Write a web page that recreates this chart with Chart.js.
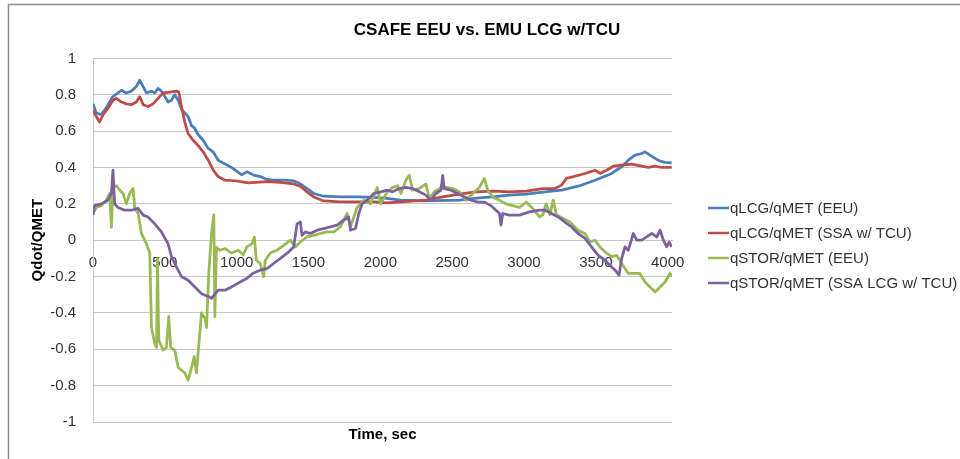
<!DOCTYPE html>
<html>
<head>
<meta charset="utf-8">
<script src="https://cdn.jsdelivr.net/npm/chart.js@4.4.1/dist/chart.umd.min.js"></script>
<style>
  html, body { margin: 0; padding: 0; background: #fff; }
  canvas { display: block; }
</style>
</head>
<body>
<canvas id="chart" width="960" height="459"></canvas>
<script>
const chartTitle = 'CSAFE EEU vs. EMU LCG w/TCU';
const xTitle = 'Time, sec';
const yTitle = 'Qdot/QMET';
const seriesLabels = ['qLCG/qMET (EEU)', 'qLCG/qMET (SSA w/ TCU)', 'qSTOR/qMET (EEU)', 'qSTOR/qMET (SSA LCG w/ TCU)'];
const seriesColors = ['#4A7EBB', '#BE4B48', '#98B954', '#7D60A0'];
const xTicks = [0, 500, 1000, 1500, 2000, 2500, 3000, 3500, 4000];
const yTicks = [-1, -0.8, -0.6, -0.4, -0.2, 0, 0.2, 0.4, 0.6, 0.8, 1];
const xMax = 4030;

// qLCG/qMET (EEU)
const tLcgEeu = [0,23,58,93,139,174,198,232,267,302,325,349,372,407,430,453,476,500,523,546,
  569,593,616,639,662,686,709,732,767,802,837,871,918,964,1000,1034,1071,1118,1164,1211,
  1257,1327,1397,1443,1490,1536,1606,1722,1838,1955,2048,2140,2317,2550,2689,2782,2898,3015,3145,3261,
  3377,3494,3610,3680,3726,3772,3819,3842,3877,3912,3947,3982,4028];
const lcgEeu = [0.75,0.70,0.69,0.73,0.79,0.81,0.825,0.81,0.82,0.845,0.88,0.845,0.81,0.82,0.81,0.835,0.82,0.79,0.76,0.77,
  0.80,0.77,0.72,0.70,0.68,0.63,0.615,0.58,0.55,0.505,0.486,0.44,0.42,0.40,0.38,0.36,0.376,0.358,0.35,0.334,
  0.33,0.33,0.327,0.31,0.284,0.257,0.242,0.238,0.238,0.235,0.23,0.22,0.216,0.22,0.233,0.238,0.248,0.253,0.266,0.275,
  0.297,0.33,0.367,0.404,0.44,0.468,0.477,0.486,0.468,0.45,0.435,0.428,0.426];

// qLCG/qMET (SSA w/ TCU)
const tLcgSsa = [0,23,46,70,104,139,163,198,232,267,302,325,349,383,418,453,488,534,581,597,
  616,639,662,697,732,767,802,837,871,918,988,1081,1211,1304,1397,1443,1490,1536,1606,1722,
  1838,1955,2048,2140,2317,2434,2550,2666,2782,2898,3015,3131,3215,3261,3296,3354,3424,3494,3528,3575,
  3621,3680,3749,3819,3865,3912,3958,4028];
const lcgSsa = [0.715,0.68,0.65,0.69,0.725,0.77,0.78,0.76,0.75,0.745,0.76,0.79,0.745,0.735,0.75,0.78,0.81,0.815,0.82,0.815,
  0.735,0.65,0.587,0.55,0.52,0.486,0.44,0.385,0.35,0.33,0.327,0.315,0.322,0.318,0.31,0.297,0.266,0.238,0.216,0.211,
  0.211,0.211,0.205,0.211,0.22,0.238,0.253,0.266,0.27,0.266,0.27,0.284,0.284,0.303,0.34,0.352,0.367,0.385,0.367,0.385,
  0.407,0.413,0.418,0.407,0.40,0.407,0.40,0.40];

// qSTOR/qMET (EEU)
const tStorEeu = [0,23,58,93,116,128,139,163,186,209,232,255,279,290,314,337,372,395,407,430,
  442,449,458,488,511,527,541,569,593,616,639,662,686,704,720,737,755,779,790,806,
  825,841,848,860,883,918,964,1011,1046,1071,1106,1123,1137,1164,1188,1199,1234,1281,1327,1374,
  1408,1443,1490,1536,1583,1629,1676,1722,1769,1792,1838,1885,1931,1978,2001,2048,2085,2120,2143,2178,
  2201,2224,2271,2317,2341,2375,2410,2457,2503,2550,2596,2643,2689,2724,2747,2782,2829,2875,2922,2968,
  3015,3061,3108,3131,3154,3180,3203,3226,3273,3319,3354,3377,3424,3459,3494,3528,3563,3610,3645,3680,
  3726,3772,3807,3842,3877,3912,3947,3982,4016,4028];
const storEeu = [0.147,0.18,0.19,0.22,0.257,0.07,0.29,0.30,0.275,0.257,0.20,0.257,0.285,0.18,0.147,0.037,-0.02,-0.07,-0.48,-0.57,
  -0.59,-0.10,-0.55,-0.605,-0.59,-0.42,-0.59,-0.605,-0.70,-0.715,-0.73,-0.77,-0.70,-0.64,-0.73,-0.57,-0.40,-0.43,-0.48,-0.18,
  0.037,0.14,-0.42,-0.04,-0.055,-0.046,-0.07,-0.055,-0.08,-0.037,-0.02,0.018,-0.11,-0.128,-0.20,-0.11,-0.07,-0.055,-0.028,0.0,
  -0.037,-0.01,0.018,0.027,0.037,0.046,0.046,0.073,0.147,0.073,0.18,0.22,0.20,0.29,0.20,0.266,0.29,0.30,0.257,0.33,
  0.357,0.275,0.284,0.31,0.23,0.266,0.284,0.29,0.284,0.266,0.22,0.257,0.29,0.34,0.275,0.238,0.22,0.20,0.19,0.18,
  0.21,0.174,0.128,0.14,0.20,0.14,0.22,0.138,0.12,0.10,0.073,0.055,0.037,-0.01,0.0,-0.037,-0.064,-0.09,-0.083,-0.128,
  -0.183,-0.183,-0.183,-0.23,-0.257,-0.285,-0.257,-0.23,-0.183,-0.20];

// qSTOR/qMET (SSA LCG w/ TCU)
const tStorSsa = [0,12,58,104,128,139,151,174,221,267,314,349,383,430,476,523,546,581,616,662,
  709,755,802,825,871,918,964,1025,1071,1118,1164,1211,1257,1304,1350,1397,1420,1443,1455,1478,
  1513,1560,1606,1652,1699,1745,1780,1792,1827,1850,1873,1908,1955,2001,2048,2085,2131,2178,2224,2271,
  2317,2352,2387,2422,2434,2445,2492,2538,2585,2631,2678,2724,2770,2805,2829,2840,2852,2898,2968,3038,
  3108,3145,3191,3238,3284,3331,3377,3424,3470,3517,3563,3610,3645,3661,3680,3703,3726,3761,3784,3819,
  3854,3889,3924,3947,3970,3993,4010,4028];
const storSsa = [0.138,0.19,0.20,0.22,0.257,0.385,0.20,0.18,0.165,0.165,0.175,0.138,0.128,0.09,0.046,-0.02,-0.09,-0.147,-0.20,-0.22,
  -0.257,-0.294,-0.31,-0.32,-0.275,-0.275,-0.257,-0.23,-0.21,-0.18,-0.165,-0.156,-0.128,-0.10,-0.073,-0.037,0.09,0.10,0.027,0.046,
  0.037,0.055,0.064,0.073,0.083,0.11,0.128,0.055,0.064,0.147,0.20,0.22,0.257,0.266,0.275,0.266,0.284,0.29,0.284,0.266,
  0.248,0.22,0.257,0.275,0.357,0.284,0.275,0.257,0.238,0.22,0.21,0.21,0.19,0.165,0.147,0.083,0.147,0.138,0.138,0.156,
  0.165,0.165,0.147,0.128,0.10,0.073,0.037,0.01,-0.037,-0.083,-0.11,-0.147,-0.174,-0.193,-0.10,-0.037,-0.055,0.037,0.0,0.0,
  0.018,0.037,0.018,0.055,0.0,-0.037,-0.01,-0.037];

const seriesTimes = [tLcgEeu, tLcgSsa, tStorEeu, tStorSsa];
const seriesValues = [lcgEeu, lcgSsa, storEeu, storSsa];

const FONT = "'Liberation Sans', Arial, sans-serif";
const TEXT = '#333333';
const GRID = '#C8C8C8';

Chart.defaults.font.family = FONT;
Chart.defaults.color = TEXT;

// chart frame + right-hand legend, drawn like the Excel original
const frameAndLegend = {
  id: 'frameAndLegend',
  afterDraw(chart) {
    const { ctx, chartArea } = chart;
    ctx.save();
    ctx.strokeStyle = '#8C8C8C';
    ctx.lineWidth = 1.5;
    ctx.beginPath();
    ctx.moveTo(8.5, chart.height);
    ctx.lineTo(8.5, 4.5);
    ctx.lineTo(chart.width, 4.5);
    ctx.stroke();

    ctx.font = '15px ' + FONT;
    ctx.textBaseline = 'middle';
    ctx.textAlign = 'left';
    chart.data.datasets.forEach((ds, i) => {
      const x = chartArea.right + 36;
      const y = 208 + i * 25;
      ctx.strokeStyle = ds.borderColor;
      ctx.lineWidth = 2.5;
      ctx.beginPath();
      ctx.moveTo(x, y);
      ctx.lineTo(x + 21, y);
      ctx.stroke();
      ctx.fillStyle = TEXT;
      ctx.fillText(ds.label, x + 22, y + 1);
    });
    ctx.restore();
  }
};

const datasets = seriesLabels.map((label, i) => ({
  label: label,
  data: seriesTimes[i].map((t, j) => ({ x: t, y: seriesValues[i][j] })),
  borderColor: seriesColors[i],
  backgroundColor: seriesColors[i],
  borderWidth: 2.75,
  pointRadius: 0,
  tension: 0,
  borderJoinStyle: 'round',
  order: seriesLabels.length - i
}));

new Chart(document.getElementById('chart'), {
  type: 'line',
  data: { datasets: datasets },
  options: {
    responsive: false,
    animation: false,
    layout: { padding: { left: 14, right: 0, top: 0, bottom: 0 } },
    plugins: {
      legend: { display: false },
      tooltip: { enabled: false },
      title: {
        display: true,
        text: chartTitle,
        color: '#000',
        font: { size: 17, weight: 'bold' },
        padding: { top: 20, bottom: 18 }
      },
      subtitle: {
        display: true,
        text: xTitle,
        position: 'bottom',
        fullSize: false,
        color: '#000',
        font: { size: 15, weight: 'bold' },
        padding: { top: 4, bottom: 15 }
      }
    },
    scales: {
      x: {
        type: 'linear',
        position: { y: 0 },
        min: 0,
        max: xMax,
        afterBuildTicks: (scale) => { scale.ticks = xTicks.map(v => ({ value: v })); },
        ticks: {
          padding: 14,
          maxRotation: 0,
          autoSkip: false,
          font: { size: 15 },
          callback: (v) => String(v)
        },
        grid: { display: false, drawTicks: false },
        border: { display: true, color: GRID, width: 1 }
      },
      y: {
        min: -1,
        max: 1,
        afterFit: (scale) => { scale.width = 79; },
        afterBuildTicks: (scale) => { scale.ticks = yTicks.map(v => ({ value: v })); },
        ticks: {
          padding: 17,
          font: { size: 15 },
          callback: (v) => String(Math.round(v * 10) / 10)
        },
        grid: { color: GRID, lineWidth: 1, drawTicks: false },
        border: { display: true, color: GRID, width: 1 },
        title: {
          display: true,
          text: yTitle,
          color: '#000',
          font: { size: 15, weight: 'bold' },
          padding: { top: 15, bottom: 0 }
        }
      },
      // empty right-hand band that holds the legend
      legendBand: {
        type: 'linear',
        position: 'right',
        display: true,
        afterFit: (scale) => { scale.width = 288; },
        ticks: { display: false },
        grid: { display: false, drawTicks: false },
        border: { display: false }
      }
    }
  },
  plugins: [frameAndLegend]
});
</script>
</body>
</html>
